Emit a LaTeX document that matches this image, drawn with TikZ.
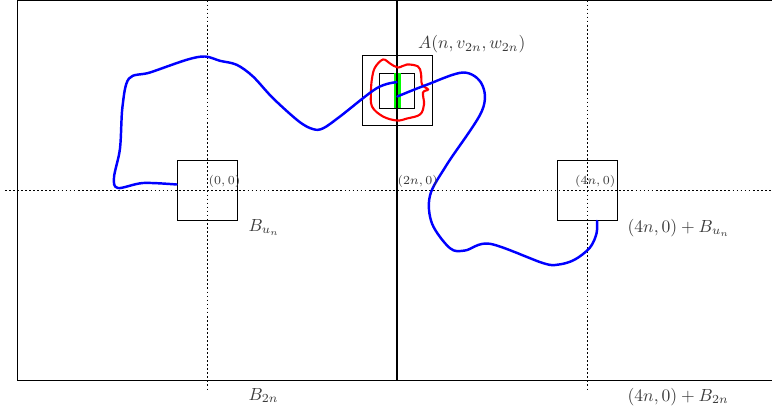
\documentclass[tikz,border=0pt]{standalone}
\usepackage{amsmath,amssymb}
\usepackage{xcolor}
\usepackage{tikz}
\usetikzlibrary{positioning,calc}
\definecolor{WalkBlue}{HTML}{0000FF}
\definecolor{LoopRed}{HTML}{FF0000}
\definecolor{CrossGreen}{HTML}{00FF00}
\definecolor{LabelGray}{HTML}{3A3A3A}
\tikzset{
  boxline/.style={draw=black,line width=0.5pt},
  smallbox/.style={boxline,minimum size=1.2cm,inner sep=0pt},
  axisline/.style={dash pattern=on 1pt off 1.3pt,line width=0.5pt},
  walkpath/.style={WalkBlue,line width=1.4pt,line cap=round},
  redcircuit/.style={LoopRed,line width=1.2pt},
  blabel/.style={font=\fontsize{10}{12}\selectfont,text=LabelGray,inner sep=1pt},
  olabel/.style={font=\fontsize{7}{8}\selectfont,text=LabelGray,inner sep=0.5pt}
}

\begin{document}
\begin{tikzpicture}[x=0.2cm,y=0.2cm]
  \useasboundingbox (-20.7,-21.85) rectangle (56.5,19.05);

  % the two big boxes
  \draw[boxline] (-19,-19) rectangle (19,19);
  \draw[boxline] (19,-19) rectangle (57,19);

  % axes through the centres
  \draw[axisline] (-20.2,0) -- (56.5,0);
  \draw[axisline] (0,19) -- (0,-20.1);
  \draw[axisline] (38,19) -- (38,-20.1);

  % small boxes
  \node[smallbox] (Bu) at (0,0) {};
  \node[smallbox] (Bushift) at (38,0) {};
  \node[boxline,minimum size=1.4cm,inner sep=0pt] (Aout) at (19,10) {};
  \node[boxline,minimum size=0.7cm,inner sep=0pt] (Ain) at (19,10) {};

  % crossing of the middle line
  \fill[CrossGreen] (18.7,8.25) rectangle (19.35,11.75);
  \draw[line width=0.9pt] (19,19) -- (19,-19);

  % red circuit around A
  \draw[redcircuit] plot[smooth cycle,tension=0.6] coordinates {
    (16.8,12.3) (17.6,13.1) (18.3,12.7) (19.1,12.3) (20,12.6) (21.1,12.4)
    (21.4,11.7) (21.5,10.6) (22.1,10.1) (21.6,9.8) (21.7,8.6) (21.3,7.6)
    (20,7.2) (19,7.0) (17.6,7.4) (16.5,8.4) (16.4,9.9) (16.5,11.2)};

  % blue path
  \coordinate (wstart) at (Bu.west |- 0,0.6);
  \coordinate (wend) at (Bushift.south -| 39,0);
  \draw[walkpath] plot[smooth,tension=0.55] coordinates {
    (wstart) (-6.4,0.75) (-8.9,0.25) (-9.3,1.3) (-8.7,4.2) (-8.45,8.4)
    (-7.8,11.2) (-5.7,11.8) (-2.03,13.07) (-0.2,13.4) (1.3,12.97)
    (2.97,12.57) (4.6,11.4) (6.6,9.23) (9.2,6.9) (10.63,6.13) (11.63,6.23)
    (13.3,7.4) (16.97,10.23) (18.95,10.83)};
  \draw[walkpath] plot[smooth,tension=0.55] coordinates {
    (19.03,9.4) (21.97,10.57) (25.63,11.8) (27.5,10.6) (27.47,7.9)
    (23.97,2.57) (22.3,-0.5) (22.5,-3.3) (24.3,-5.77) (25.8,-6.0)
    (28.3,-5.33) (33.63,-7.27) (35.2,-7.4) (36.8,-6.9) (38.3,-5.7)
    (38.95,-4.3) (wend)};

  % labels
  \node[olabel,anchor=south west] (l00) at (0.05,0.15) {$(0,0)$};
  \node[olabel,anchor=south west] (l2n) at (18.95,0.15) {$(2n,0)$};
  \node[olabel,anchor=south east] (l4n) at (40.95,0.15) {$(4n,0)$};
  \node[blabel,anchor=south west] (lA) at (20.9,13.55) {$A(n,v_{2n},w_{2n})$};
  \node[blabel,anchor=north west] (lBu) at (3.95,-2.65) {$B_{u_n}$};
  \node[blabel,anchor=north west] (lBushift) at (41.85,-2.65) {$(4n,0)+B_{u_n}$};
  \node[blabel,anchor=north west] (lB2n) at (3.95,-19.55) {$B_{2n}$};
  \node[blabel,anchor=north west] (lB2nshift) at (41.85,-19.55) {$(4n,0)+B_{2n}$};
\end{tikzpicture}
\end{document}
